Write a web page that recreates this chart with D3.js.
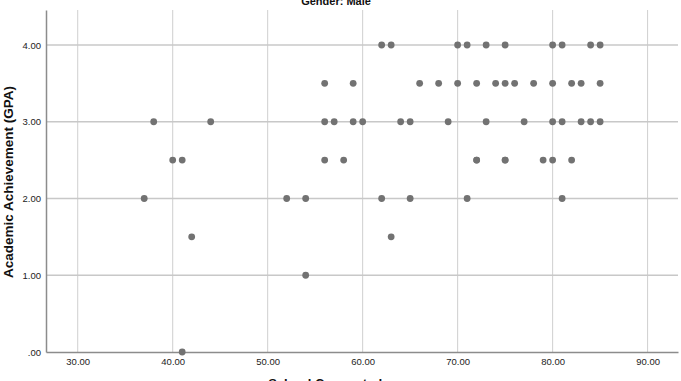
<!DOCTYPE html>
<html><head><meta charset="utf-8">
<script src="https://cdn.jsdelivr.net/npm/d3@7"></script>
<style>body{margin:0;background:#fff}svg{display:block}</style>
</head><body>
<svg id="c" width="681" height="381"></svg>
<script>
const title = "Gender: Male";
const xTitle = "School Connectedness";
const yTitle = "Academic Achievement (GPA)";
const xTicks = [30, 40, 50, 60, 70, 80, 90];
const yTicks = [0, 1, 2, 3, 4];
const connectedness = [
  37, 38, 40, 41, 41, 42, 44,
  52, 54, 54, 56, 56, 56, 57, 58, 59, 59, 60,
  62, 63, 62, 63, 64, 65, 65, 66, 68, 69,
  70, 70, 71, 71, 72, 72, 72, 73, 73, 74, 75, 75, 75, 75, 76, 77, 78, 79,
  80, 80, 80, 80, 81, 81, 81, 82, 82, 83, 83, 84, 84, 85, 85, 85
];
const gpa = [
  2.0, 3.0, 2.5, 2.5, 0.0, 1.5, 3.0,
  2.0, 2.0, 1.0, 3.5, 3.0, 2.5, 3.0, 2.5, 3.5, 3.0, 3.0,
  4.0, 4.0, 2.0, 1.5, 3.0, 3.0, 2.0, 3.5, 3.5, 3.0,
  4.0, 3.5, 4.0, 2.0, 3.5, 2.5, 2.5, 4.0, 3.0, 3.5, 4.0, 3.5, 2.5, 2.5, 3.5, 3.0, 3.5, 2.5,
  4.0, 3.5, 3.0, 2.5, 4.0, 3.0, 2.0, 3.5, 2.5, 3.5, 3.0, 4.0, 3.0, 4.0, 3.5, 3.0
];

(function () {
const svg = d3.select("#c");
const pl = 46, pr = 678, pt = 10, pb = 352;
const x = d3.scaleLinear().domain([26.66, 93.2]).range([pl, pr]);
const y = d3.scaleLinear().domain([0, 4.456]).range([pb, pt]);

svg.append("g").selectAll("line").data(xTicks).join("line")
  .attr("x1", d => x(d)).attr("x2", d => x(d))
  .attr("y1", pt).attr("y2", pb)
  .attr("stroke", "#cfcfcf").attr("stroke-width", 1);
svg.append("g").selectAll("line").data(yTicks.filter(d => d > 0)).join("line")
  .attr("x1", pl).attr("x2", pr)
  .attr("y1", d => y(d)).attr("y2", d => y(d))
  .attr("stroke", "#c8c8c8").attr("stroke-width", 1.5);

const xAxis = svg.append("g").attr("transform", `translate(0,${pb})`)
  .call(d3.axisBottom(x).tickValues(xTicks).tickFormat(d3.format(".2f")).tickSize(0).tickPadding(6));
const yAxis = svg.append("g").attr("transform", `translate(${pl},0)`)
  .call(d3.axisLeft(y).tickValues(yTicks).tickFormat(d => d === 0 ? ".00" : d3.format(".2f")(d)).tickSize(0).tickPadding(5));
[xAxis, yAxis].forEach(a => {
  a.select(".domain").attr("stroke", "#8c8c8c").attr("stroke-width", 1.5);
  a.selectAll("text").attr("fill", "#222").style("font-family", "Liberation Sans Narrow, Arial Narrow, Liberation Sans, sans-serif").style("font-size", "9.5px");
});

svg.append("g").selectAll("circle").data(connectedness.map((c, i) => [c, gpa[i]])).join("circle")
  .attr("cx", d => x(d[0])).attr("cy", d => y(d[1])).attr("r", 3.4)
  .attr("fill", "#727272");

svg.append("text").attr("x", 336).attr("y", 5).attr("text-anchor", "middle")
  .style("font-family", "Liberation Sans, Arial, sans-serif").style("font-weight", "bold").style("font-size", "11px")
  .attr("fill", "#111").text(title);
svg.append("text").attr("x", 340).attr("y", 388).attr("text-anchor", "middle")
  .style("font-family", "Liberation Sans, Arial, sans-serif").style("font-weight", "bold").style("font-size", "13px")
  .attr("fill", "#111").text(xTitle);
svg.append("text").attr("transform", "translate(13,182) rotate(-90)").attr("text-anchor", "middle")
  .style("font-family", "Liberation Sans, Arial, sans-serif").style("font-weight", "bold").style("font-size", "13.5px")
  .attr("fill", "#111").text(yTitle);
})();
</script>
</body></html>
